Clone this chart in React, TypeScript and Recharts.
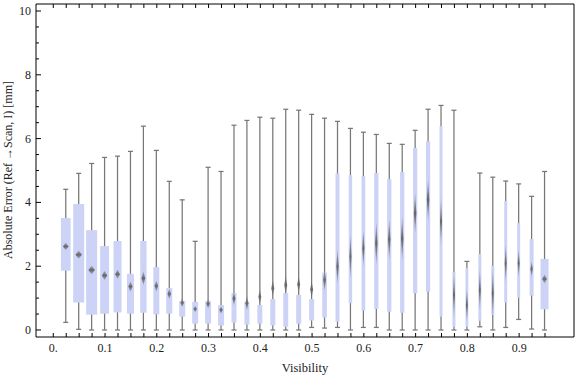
import { ComposedChart, Bar, XAxis, YAxis } from 'recharts'

// box positions along the visibility axis
const visibility = [
  0.025, 0.05, 0.075, 0.1, 0.125, 0.15, 0.175, 0.2, 0.225, 0.25,
  0.275, 0.3, 0.325, 0.35, 0.375, 0.4, 0.425, 0.45, 0.475, 0.5,
  0.525, 0.55, 0.575, 0.6, 0.625, 0.65, 0.675, 0.7, 0.725, 0.75,
  0.775, 0.8, 0.825, 0.85, 0.875, 0.9, 0.925, 0.95,
]
const whiskerLow = [
  0.24, 0.02, 0, 0, 0, 0, 0, 0, 0, 0,
  0, 0, 0, 0, 0, 0, 0, 0, 0, 0.08,
  0.06, 0.08, 0, 0.08, 0.08, 0, 0, 0, 0, 0,
  0, 0, 0.1, 0, 0.08, 0.33, 0.03, 0,
]
const quartileLow = [
  1.86, 0.86, 0.48, 0.51, 0.55, 0.51, 0.54, 0.49, 0.51, 0.42,
  0.2, 0.2, 0.14, 0.23, 0.17, 0.2, 0.14, 0.1, 0.2, 0.3,
  0.39, 0.26, 0.84, 0.61, 0.66, 0.57, 0.54, 1.15, 1.2, 0.42,
  0.1, 0.1, 0.29, 0.47, 0.86, 1.01, 1.08, 0.65,
]
const quartileHigh = [
  3.51, 3.95, 3.13, 2.63, 2.79, 1.76, 2.79, 1.97, 1.32, 0.91,
  0.88, 0.91, 0.78, 1.16, 0.89, 0.78, 0.97, 1.16, 1.1, 0.97,
  1.8, 4.91, 4.86, 4.82, 4.92, 4.73, 4.95, 5.71, 5.91, 6.39,
  1.81, 1.94, 2.38, 2.01, 4.04, 3.35, 2.85, 2.23,
]
const whiskerHigh = [
  4.41, 4.91, 5.22, 5.41, 5.45, 5.6, 6.39, 5.63, 4.66, 4.08,
  2.78, 5.1, 4.97, 6.42, 6.57, 6.67, 6.64, 6.92, 6.89, 6.76,
  6.64, 6.54, 6.32, 6.2, 6.13, 5.85, 5.82, 6.26, 6.92, 7.04,
  6.89, 2.15, 4.92, 4.79, 4.67, 4.58, 4.19, 4.97,
]
const means = [
  2.62, 2.36, 1.88, 1.71, 1.75, 1.36, 1.62, 1.38, 1.13, 0.85,
  0.66, 0.82, 0.63, 0.99, 0.84, 1.04, 1.31, 1.41, 1.43, 1.27,
  1.57, 1.99, 2.3, 2.56, 2.72, 2.84, 2.87, 3.66, 4.08, 3.4,
  1.1, 0.78, 1.25, 1.15, 2.09, 2.09, 1.91, 1.6,
]
// half height of the mean confidence diamond
const meanCI = [
  0.12, 0.13, 0.14, 0.15, 0.15, 0.17, 0.22, 0.18, 0.16, 0.14,
  0.11, 0.15, 0.12, 0.22, 0.23, 0.23, 0.27, 0.3, 0.27, 0.27,
  0.35, 0.55, 0.7, 0.58, 0.68, 0.65, 0.7, 0.65, 0.68, 0.78,
  0.73, 0.52, 0.65, 0.78, 0.6, 0.44, 0.25, 0.14,
]
// relative sample counts (box width goes with sqrt of count)
const counts = [
  94, 121, 121, 81, 64, 49, 40, 36, 36, 36,
  36, 36, 36, 25, 25, 25, 25, 25, 25, 25,
  22, 16, 12, 14, 18, 18, 18, 18, 18, 9,
  9, 8, 9, 9, 9, 9, 16, 64,
]

const xTicks = [
  0, 0.025, 0.05, 0.075, 0.1, 0.125, 0.15, 0.175, 0.2, 0.225,
  0.25, 0.275, 0.3, 0.325, 0.35, 0.375, 0.4, 0.425, 0.45, 0.475,
  0.5, 0.525, 0.55, 0.575, 0.6, 0.625, 0.65, 0.675, 0.7, 0.725,
  0.75, 0.775, 0.8, 0.825, 0.85, 0.875, 0.9, 0.925, 0.95,
]
const xLabelValues = [0, 0.1, 0.2, 0.3, 0.4, 0.5, 0.6, 0.7, 0.8, 0.9]
const xLabelTexts = ['0.', '0.1', '0.2', '0.3', '0.4', '0.5', '0.6', '0.7', '0.8', '0.9']
const yTicks = [
  0, 0.5, 1, 1.5, 2, 2.5, 3, 3.5, 4, 4.5, 5,
  5.5, 6, 6.5, 7, 7.5, 8, 8.5, 9, 9.5, 10,
]
const yLabelValues = [0, 2, 4, 6, 8, 10]

const data = visibility.map((v, i) => ({
  x: v,
  lo: whiskerLow[i],
  q1: quartileLow[i],
  q3: quartileHigh[i],
  hi: whiskerHigh[i],
  mean: means[i],
  ci: meanCI[i],
  n: counts[i],
}))

const FONT = '"Liberation Serif", "DejaVu Serif", serif'
const BOX_FILL = '#ccd3f6'
const WHISKER = '#777777'

function BoxShape(props: any) {
  const { x, y, width, height, index } = props
  const d = props.payload ?? data[index]
  const cx = x + width / 2
  const span = d.hi - d.lo
  const py = (v: number) => y + (span > 0 ? (height * (d.hi - v)) / span : 0)
  const bw = Math.sqrt(d.n)
  const dw = Math.max(2, bw * 0.58) / 2
  const top = py(d.q3)
  const bot = py(d.q1)
  const mTop = py(d.mean + d.ci)
  const mMid = py(d.mean)
  const mBot = py(d.mean - d.ci)
  const gid = `meang${index}`
  return (
    <g>
      <defs>
        <linearGradient id={gid} x1="0" y1="0" x2="0" y2="1">
          <stop offset="0%" stopColor="#666" stopOpacity={0.3} />
          <stop offset="50%" stopColor="#666" stopOpacity={1} />
          <stop offset="100%" stopColor="#666" stopOpacity={0.3} />
        </linearGradient>
      </defs>
      <line x1={cx} x2={cx} y1={py(d.hi)} y2={py(d.lo)} stroke={WHISKER} strokeWidth={1.25} />
      <line x1={cx - 2.5} x2={cx + 2.5} y1={py(d.hi)} y2={py(d.hi)} stroke={WHISKER} strokeWidth={1.25} />
      <line x1={cx - 2.5} x2={cx + 2.5} y1={py(d.lo)} y2={py(d.lo)} stroke={WHISKER} strokeWidth={1.25} />
      <rect x={cx - bw / 2} y={top} width={bw} height={Math.max(0, bot - top)} fill={BOX_FILL} />
      <polygon
        points={`${cx},${mTop} ${cx + dw},${mMid} ${cx},${mBot} ${cx - dw},${mMid}`}
        fill={`url(#${gid})`}
      />
    </g>
  )
}

function BottomTick(props: any) {
  const { x, y, payload } = props
  const li = xLabelValues.findIndex((v) => Math.abs(v - payload.value) < 1e-6)
  return (
    <g>
      <line x1={x} x2={x} y1={y} y2={y - 4} stroke="#000" />
      {li >= 0 && (
        <text x={x} y={y + 15} textAnchor="middle" fontFamily={FONT} fontSize={12} fill="#222">
          {xLabelTexts[li]}
        </text>
      )}
    </g>
  )
}

function TopTick(props: any) {
  const { x, y } = props
  return <line x1={x} x2={x} y1={y} y2={y + 4} stroke="#000" />
}

function LeftTick(props: any) {
  const { x, y, payload } = props
  const major = yLabelValues.includes(payload.value)
  return (
    <g>
      <line x1={x} x2={x + (major ? 5 : 3)} y1={y} y2={y} stroke="#000" />
      {major && (
        <text x={x - 5} y={y + 4} textAnchor="end" fontFamily={FONT} fontSize={12} fill="#222">
          {payload.value}
        </text>
      )}
    </g>
  )
}

function RightTick(props: any) {
  const { x, y, payload } = props
  const major = yLabelValues.includes(payload.value)
  return <line x1={x} x2={x - (major ? 5 : 3)} y1={y} y2={y} stroke="#000" />
}

function XTitle() {
  return (
    <text x={305} y={372} textAnchor="middle" fontFamily={FONT} fontSize={12.5} fill="#222">
      Visibility
    </text>
  )
}

function YTitle() {
  return (
    <text
      x={12}
      y={170}
      transform="rotate(-90 12 170)"
      textAnchor="middle"
      fontFamily={FONT}
      fontSize={12}
      fill="#222"
    >
      Absolute Error (Ref →Scan, I) [mm]
    </text>
  )
}

export default function App() {
  return (
    <>
      <style>{'body{margin:0}'}</style>
      <ComposedChart width={576} height={377} data={data} margin={{ top: 0, right: 0, bottom: 0, left: 0 }}>
        <XAxis
          xAxisId="b"
          dataKey="x"
          type="number"
          domain={[-0.0334, 1.006]}
          ticks={xTicks}
          interval={0}
          height={40}
          tickSize={0}
          tickMargin={0}
          tickLine={false}
          axisLine={{ stroke: '#000' }}
          tick={<BottomTick />}
          label={<XTitle />}
        />
        <XAxis
          xAxisId="t"
          orientation="top"
          dataKey="x"
          type="number"
          domain={[-0.0334, 1.006]}
          ticks={xTicks}
          interval={0}
          height={4}
          tickSize={0}
          tickMargin={0}
          tickLine={false}
          axisLine={{ stroke: '#000' }}
          tick={<TopTick />}
        />
        <YAxis
          yAxisId="l"
          type="number"
          domain={[-0.22, 10.22]}
          ticks={yTicks}
          interval={0}
          width={36}
          tickSize={0}
          tickMargin={0}
          tickLine={false}
          axisLine={{ stroke: '#000' }}
          tick={<LeftTick />}
          label={<YTitle />}
        />
        <YAxis
          yAxisId="r"
          orientation="right"
          type="number"
          domain={[-0.22, 10.22]}
          ticks={yTicks}
          interval={0}
          width={2}
          tickSize={0}
          tickMargin={0}
          tickLine={false}
          axisLine={{ stroke: '#000' }}
          tick={<RightTick />}
        />
        <Bar
          xAxisId="b"
          yAxisId="l"
          dataKey={(d: any) => [d.lo, d.hi]}
          barSize={10}
          shape={<BoxShape />}
          isAnimationActive={false}
        />
      </ComposedChart>
    </>
  )
}
